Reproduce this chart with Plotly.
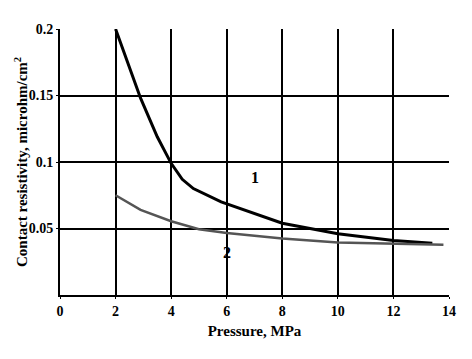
import plotly.graph_objects as go

x1 = [2.0, 2.9, 3.5, 4.0, 4.4, 4.8, 5.8, 8.0, 10.0, 12.0, 13.4]
y1 = [0.2, 0.148, 0.119, 0.099, 0.087, 0.080, 0.070, 0.054, 0.046, 0.041, 0.039]
x2 = [2.0, 2.9, 4.0, 5.0, 6.0, 8.0, 10.0, 12.0, 13.8]
y2 = [0.075, 0.064, 0.0555, 0.0495, 0.0467, 0.0425, 0.0395, 0.0383, 0.0377]
x_ticks = [0, 2, 4, 6, 8, 10, 12, 14]
y_ticks = [0.05, 0.1, 0.15, 0.2]
y_tick_labels = ["0.05", "0.1", "0.15", "0.2"]

serif = "Liberation Serif"

fig = go.Figure()
fig.add_trace(go.Scatter(x=x1, y=y1, mode="lines", line=dict(color="black", width=3), showlegend=False))
fig.add_trace(go.Scatter(x=x2, y=y2, mode="lines", line=dict(color="#555555", width=2.5), showlegend=False))

fig.add_annotation(x=7.0, y=0.088, text="<b>1</b>", showarrow=False, font=dict(family=serif, size=16, color="black"))
fig.add_annotation(x=6.0, y=0.032, text="<b>2</b>", showarrow=False, font=dict(family=serif, size=16, color="black"))
fig.add_annotation(xref="paper", yref="paper", x=-39 / 389, y=0.5, xanchor="center", yanchor="middle",
                   text="<b>Contact resistivity, microhm/cm<sup>2</sup></b>", textangle=-90, showarrow=False,
                   font=dict(family=serif, size=15, color="black"))

fig.update_layout(
    width=472, height=359,
    margin=dict(l=60, r=23, t=29, b=64),
    paper_bgcolor="white", plot_bgcolor="white",
    font=dict(family=serif, size=14, color="black"),
    xaxis=dict(range=[0, 14], tickvals=x_ticks, ticktext=[f"<b>{v}</b>" for v in x_ticks],
               tickfont=dict(family=serif, size=14, color="black"),
               showgrid=True, gridcolor="black", gridwidth=2,
               showline=True, linecolor="black", linewidth=2, zeroline=False,
               ticks="outside", ticklen=2, tickcolor="black", automargin=False,
               title=dict(text="<b>Pressure, MPa</b>", font=dict(family=serif, size=15), standoff=8)),
    yaxis=dict(range=[0, 0.2], tickvals=y_ticks, ticktext=[f"<b>{t}</b>" for t in y_tick_labels],
               tickfont=dict(family=serif, size=14, color="black"),
               showgrid=True, gridcolor="black", gridwidth=2,
               showline=True, linecolor="black", linewidth=2, zeroline=False,
               ticks="outside", ticklen=2, tickcolor="black", automargin=False),
)

fig.write_html("out.html", config={"displayModeBar": False},
               post_script="document.body.style.margin='0';document.body.style.padding='0';")
